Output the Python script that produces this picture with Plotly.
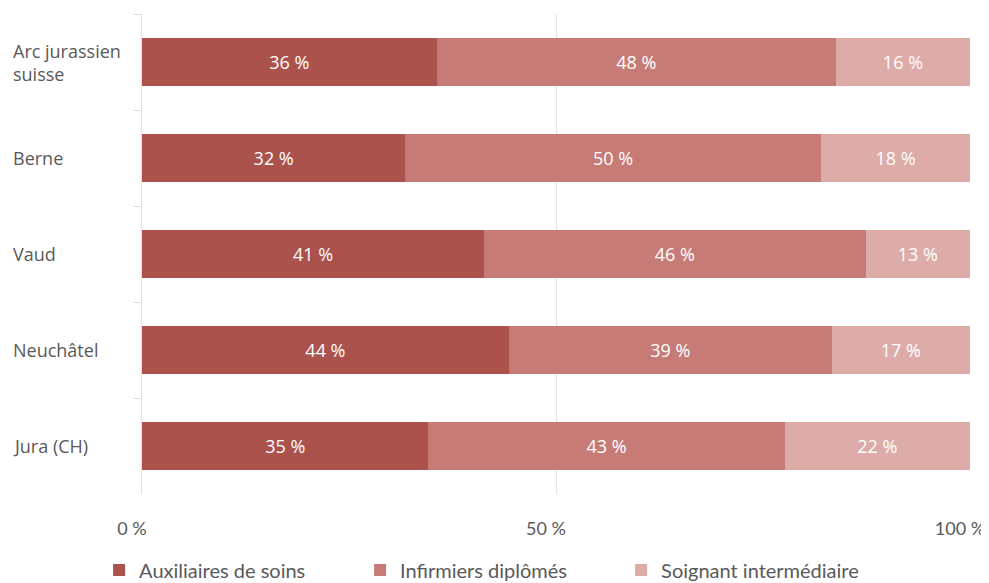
import plotly.graph_objects as go

categories = ["Arc jurassien suisse", "Berne", "Vaud", "Neuchâtel", "Jura (CH)"]
category_labels = ["Arc jurassien<br>suisse", "Berne", "Vaud", "Neuchâtel", "Jura (CH)"]
series_names = ["Auxiliaires de soins", "Infirmiers diplômés", "Soignant intermédiaire"]
auxiliaires = [35.6, 31.8, 41.3, 44.3, 34.6]
infirmiers = [48.2, 50.2, 46.1, 39.0, 43.0]
intermediaire = [16.2, 18.0, 12.6, 16.7, 22.4]
tick_vals = [0, 50, 100]
tick_text = ["0 %", "50 %", "100 %"]

colors = ["#AB524D", "#C67B76", "#DDACA8"]
text_grey = "#595959"

fig = go.Figure()
for name, vals, col in zip(series_names, [auxiliaires, infirmiers, intermediaire], colors):
    fig.add_trace(go.Bar(
        y=categories, x=vals, name=name, orientation="h",
        marker=dict(color=col, line=dict(width=0)),
        width=0.5,
        texttemplate="%{x:.0f} %", textposition="inside", insidetextanchor="middle",
        textfont=dict(color="white", size=18, family="Open Sans"),
        hoverinfo="skip",
    ))

for cat, lab in zip(categories, category_labels):
    fig.add_annotation(
        x=0, xref="paper", xshift=-131, xanchor="left", align="left",
        y=cat, yref="y", text=lab, showarrow=False,
        font=dict(size=18, color=text_grey, family="Open Sans"),
    )

fig.update_layout(
    barmode="stack",
    width=981, height=575,
    margin=dict(l=134, r=19, t=6, b=89, autoexpand=False),
    plot_bgcolor="white", paper_bgcolor="white",
    showlegend=True,
    legend=dict(orientation="h", x=0.421, xanchor="center", y=-0.1990, yanchor="bottom",
                font=dict(size=20, color=text_grey, family="Lato"),
                traceorder="normal", itemsizing="constant",
                entrywidth=216, entrywidthmode="pixels"),
    xaxis=dict(range=[0, 100], tickvals=tick_vals, ticktext=tick_text,
               showgrid=True, gridcolor="#E4E4E4", gridwidth=1, zeroline=False,
               showline=False, ticks="", ticklabelstandoff=22, automargin=False,
               ticklabeloverflow="allow", ticklabelshift=-10,
               tickfont=dict(size=18, color=text_grey, family="Lato")),
    yaxis=dict(autorange="reversed", showticklabels=False, automargin=False,
               showline=True, linecolor="#E0E0E0", linewidth=1,
               ticks="outside", ticklen=8, tickcolor="#E0E0E0", tickson="boundaries",
               showgrid=False),
)

fig.write_html("out.html")
